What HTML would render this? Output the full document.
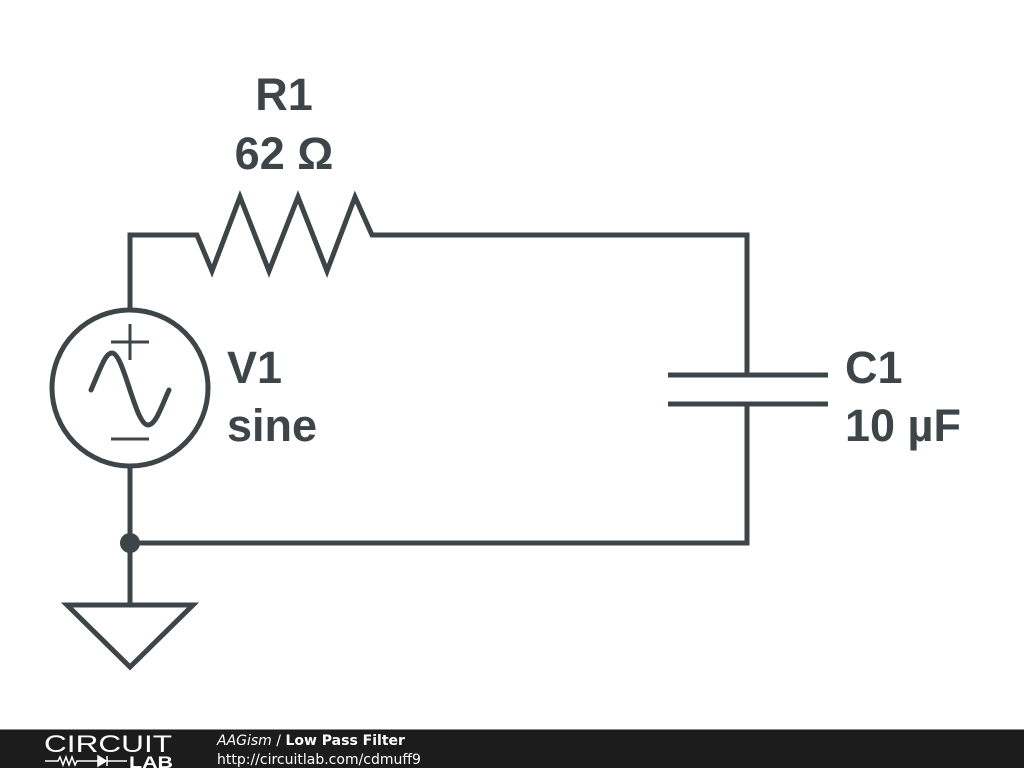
<!DOCTYPE html>
<html><head><meta charset="utf-8"><style>
html,body{margin:0;padding:0;width:1024px;height:768px;background:#fff;overflow:hidden}
</style></head><body>
<svg width="1024" height="768" viewBox="0 0 1024 768" xmlns="http://www.w3.org/2000/svg" style="position:absolute;left:0;top:0">
<g fill="none" stroke="#3d4549" stroke-width="5" stroke-linejoin="miter" stroke-linecap="butt">
<polyline points="130,310 130,235 197,235 212,271 240,197 269,271 298,197 327,271 355,197 372,235 747,235 747,375"/>
<line x1="668" y1="375" x2="828" y2="375"/>
<line x1="668" y1="404" x2="828" y2="404"/>
<polyline points="747,404 747,543 130,543 130,466"/>
<line x1="130" y1="543" x2="130" y2="605"/>
<polygon points="67,605 193,605 130,667"/>
<circle cx="130" cy="388" r="78"/>
<path d="M91,390 C100,370 105,353 112,353 C124,353 135,425 148,425 C156,425 162,405 169,390" stroke-linecap="round"/>
</g>
<g stroke="#3d4549" stroke-width="3">
<line x1="111" y1="342" x2="149" y2="342"/>
<line x1="130" y1="324" x2="130" y2="360"/>
<line x1="111" y1="439" x2="149" y2="439"/>
</g>
<circle cx="130" cy="543" r="10" fill="#3d4549"/>
<g fill="#3d4549" font-family="'Liberation Sans',sans-serif" font-weight="bold" font-size="45">
<text x="284" y="110" text-anchor="middle">R1</text>
<text x="284" y="169" text-anchor="middle">62 Ω</text>
<text x="227" y="383">V1</text>
<text x="227" y="441">sine</text>
<text x="845" y="383">C1</text>
<text x="845" y="441">10 µF</text>
</g>
<rect x="0" y="729" width="1024" height="39" fill="#1c1c1c"/>
<line x1="0" y1="729.5" x2="1024" y2="729.5" stroke="#888" stroke-width="1"/>
<text x="44" y="752" fill="#fff" font-family="'Liberation Sans',sans-serif" font-size="24" textLength="128" lengthAdjust="spacingAndGlyphs">CIRCUIT</text>
<g stroke="#fff" stroke-width="1.5" fill="none">
<polyline points="45,761 58,761 60,757 63,765 66,757 69,765 72,757 75,765 77,761 98,761"/>
<polygon points="98,756 98,766 106,761" fill="#fff"/>
<line x1="107" y1="756" x2="107" y2="766"/>
<line x1="107" y1="761" x2="127" y2="761"/>
</g>
<text x="129" y="768" fill="#fff" font-family="'Liberation Sans',sans-serif" font-weight="bold" font-size="17" textLength="44" lengthAdjust="spacingAndGlyphs">LAB</text>
<text x="217" y="745" fill="#fff" font-family="'DejaVu Sans',sans-serif" font-size="14"><tspan font-style="italic">AAGism</tspan> / <tspan font-weight="bold">Low Pass Filter</tspan></text>
<text x="217" y="764" fill="#fff" font-family="'DejaVu Sans',sans-serif" font-size="14">http://circuitlab.com/cdmuff9</text>
</svg>
</body></html>
